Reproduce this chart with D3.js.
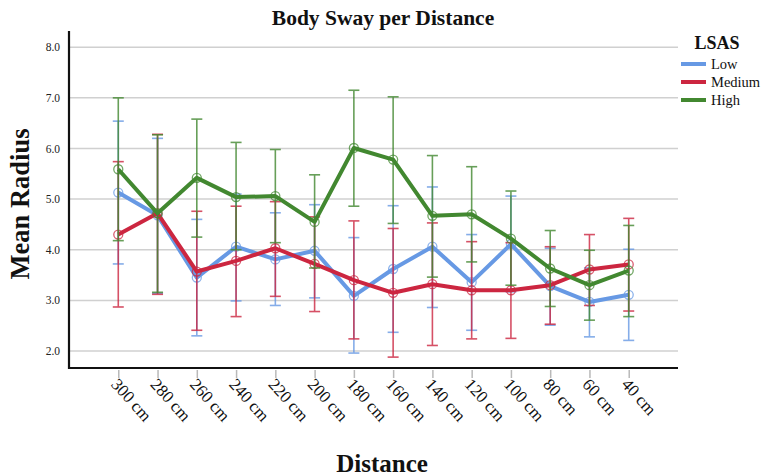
<!DOCTYPE html>
<html>
<head>
<meta charset="utf-8">
<script src="https://cdn.jsdelivr.net/npm/d3@7"></script>
<style>
  body { margin: 0; background: #fff; }
  text { font-family: "Liberation Serif", "DejaVu Serif", serif; }
</style>
</head>
<body>
<div class="container"></div>
<script>
const distances = ["300 cm", "280 cm", "260 cm", "240 cm", "220 cm", "200 cm", "180 cm",
  "160 cm", "140 cm", "120 cm", "100 cm", "80 cm", "60 cm", "40 cm"];
const yTicks = [2, 3, 4, 5, 6, 7, 8];

const lowMean  = [5.13, 4.68, 3.45, 4.06, 3.81, 3.98, 3.09, 3.62, 4.06, 3.36, 4.11, 3.28, 2.97, 3.11];
const lowUpper = [6.54, 6.20, 4.60, 5.10, 4.73, 4.89, 4.24, 4.87, 5.24, 4.30, 5.06, 4.03, 3.64, 4.01];
const lowLower = [3.72, 3.14, 2.30, 2.99, 2.90, 3.05, 1.96, 2.37, 2.86, 2.41, 3.17, 2.51, 2.28, 2.21];

const medMean  = [4.30, 4.72, 3.57, 3.78, 4.03, 3.72, 3.40, 3.15, 3.32, 3.20, 3.20, 3.30, 3.61, 3.71];
const medUpper = [5.74, 6.28, 4.76, 4.86, 4.95, 4.65, 4.57, 4.42, 4.53, 4.16, 4.14, 4.06, 4.30, 4.62];
const medLower = [2.87, 3.12, 2.41, 2.68, 3.08, 2.78, 2.24, 1.88, 2.11, 2.24, 2.25, 2.53, 2.90, 2.79];

const highMean  = [5.59, 4.72, 5.42, 5.04, 5.06, 4.55, 6.01, 5.78, 4.67, 4.70, 4.22, 3.63, 3.30, 3.59];
const highUpper = [7.00, 6.27, 6.58, 6.12, 5.98, 5.48, 7.15, 7.02, 5.86, 5.64, 5.16, 4.38, 3.99, 4.48];
const highLower = [4.18, 3.16, 4.25, 4.00, 4.14, 3.64, 4.86, 4.52, 3.46, 3.76, 3.30, 2.88, 2.61, 2.68];

const groups = [
  { name: "Low", color: "rgb(103,153,228)", mean: lowMean, upper: lowUpper, lower: lowLower },
  { name: "Medium", color: "rgb(204,38,64)", mean: medMean, upper: medUpper, lower: medLower },
  { name: "High", color: "rgb(66,136,48)", mean: highMean, upper: highUpper, lower: highLower }
];

const width = 763;
const height = 476;
const margin = { top: 31, right: 85, bottom: 108, left: 69 };

const svg = d3.select(".container").append("svg")
  .attr("width", width)
  .attr("height", height);

const x = d3.scalePoint()
  .domain(distances)
  .range([margin.left, width - margin.right])
  .padding(1.255);

const y = d3.scaleLinear()
  .domain([1.665, 8.32])
  .range([height - margin.bottom, margin.top]);

// gridlines
svg.append("g")
  .selectAll("line")
  .data(yTicks)
  .enter()
  .append("line")
  .attr("x1", margin.left + 1)
  .attr("x2", width - margin.right)
  .attr("y1", d => y(d))
  .attr("y2", d => y(d))
  .attr("stroke", "rgb(208,208,208)")
  .attr("stroke-width", 1.5);

// y tick labels
svg.append("g")
  .selectAll("text")
  .data(yTicks)
  .enter()
  .append("text")
  .attr("x", margin.left - 9)
  .attr("y", d => y(d))
  .attr("dy", "0.35em")
  .attr("text-anchor", "end")
  .attr("font-size", 11.5)
  .attr("fill", "#222")
  .text(d => d.toFixed(1));

// x ticks
const xAxis = svg.append("g")
  .attr("transform", `translate(0,${height - margin.bottom})`)
  .call(d3.axisBottom(x).tickSize(10).tickSizeOuter(0));
xAxis.select(".domain").remove();
xAxis.selectAll(".tick line")
  .attr("stroke", "rgb(185,185,185)")
  .attr("stroke-width", 1.5)
  .attr("y1", 2);
xAxis.selectAll(".tick text")
  .attr("font-family", "Liberation Serif, serif")
  .attr("font-size", 17)
  .attr("fill", "#111")
  .attr("text-anchor", "start")
  .attr("transform", "translate(-4,13) rotate(48)")
  .attr("dy", "0.35em")
  .attr("y", 0)
  .attr("x", 0);

// axis lines
svg.append("path")
  .attr("d", `M${margin.left},${margin.top}V${height - margin.bottom}H${width - margin.right}`)
  .attr("fill", "none")
  .attr("stroke", "#111")
  .attr("stroke-width", 2.2);

const line = d3.line()
  .x((d, i) => x(distances[i]))
  .y(d => y(d));

groups.forEach(g => {
  const layer = svg.append("g");

  // error bars
  const bars = layer.append("g")
    .attr("stroke", g.color)
    .attr("stroke-width", 1.6)
    .attr("opacity", 0.8);
  bars.selectAll(".bar")
    .data(distances)
    .enter()
    .append("line")
    .attr("x1", d => x(d))
    .attr("x2", d => x(d))
    .attr("y1", (d, i) => y(g.upper[i]))
    .attr("y2", (d, i) => y(g.lower[i]));
  bars.selectAll(".capU")
    .data(distances)
    .enter()
    .append("line")
    .attr("x1", d => x(d) - 5.5)
    .attr("x2", d => x(d) + 5.5)
    .attr("y1", (d, i) => y(g.upper[i]))
    .attr("y2", (d, i) => y(g.upper[i]));
  bars.selectAll(".capL")
    .data(distances)
    .enter()
    .append("line")
    .attr("x1", d => x(d) - 5.5)
    .attr("x2", d => x(d) + 5.5)
    .attr("y1", (d, i) => y(g.lower[i]))
    .attr("y2", (d, i) => y(g.lower[i]));

  // mean line
  layer.append("path")
    .datum(g.mean)
    .attr("fill", "none")
    .attr("stroke", g.color)
    .attr("stroke-width", 4)
    .attr("stroke-linejoin", "round")
    .attr("d", line);

  // markers
  layer.selectAll("circle")
    .data(g.mean)
    .enter()
    .append("circle")
    .attr("cx", (d, i) => x(distances[i]))
    .attr("cy", d => y(d))
    .attr("r", 4.5)
    .attr("fill", "none")
    .attr("stroke", g.color)
    .attr("stroke-opacity", 0.75)
    .attr("stroke-width", 1.3);
});

// title
svg.append("text")
  .attr("x", 383)
  .attr("y", 25)
  .attr("text-anchor", "middle")
  .attr("font-size", 21.5)
  .attr("font-weight", "bold")
  .attr("fill", "#111")
  .text("Body Sway per Distance");

// axis titles
svg.append("text")
  .attr("transform", "translate(29,204) rotate(-90)")
  .attr("text-anchor", "middle")
  .attr("font-size", 26.5)
  .attr("font-weight", "bold")
  .attr("fill", "#111")
  .text("Mean Radius");

svg.append("text")
  .attr("x", 382)
  .attr("y", 472)
  .attr("text-anchor", "middle")
  .attr("font-size", 25)
  .attr("font-weight", "bold")
  .attr("fill", "#111")
  .text("Distance");

// legend
const legend = svg.append("g");
legend.append("text")
  .attr("x", 717)
  .attr("y", 49)
  .attr("text-anchor", "middle")
  .attr("font-size", 18)
  .attr("font-weight", "bold")
  .attr("fill", "#111")
  .text("LSAS");

const items = legend.selectAll(".item")
  .data(groups)
  .enter()
  .append("g")
  .attr("transform", (d, i) => `translate(0,${64 + i * 18})`);
items.append("line")
  .attr("x1", 681)
  .attr("x2", 706)
  .attr("stroke", d => d.color)
  .attr("stroke-width", 4);
items.append("text")
  .attr("x", 711)
  .attr("dy", "0.35em")
  .attr("font-size", 14.5)
  .attr("fill", "#111")
  .text(d => d.name);
</script>
</body>
</html>
